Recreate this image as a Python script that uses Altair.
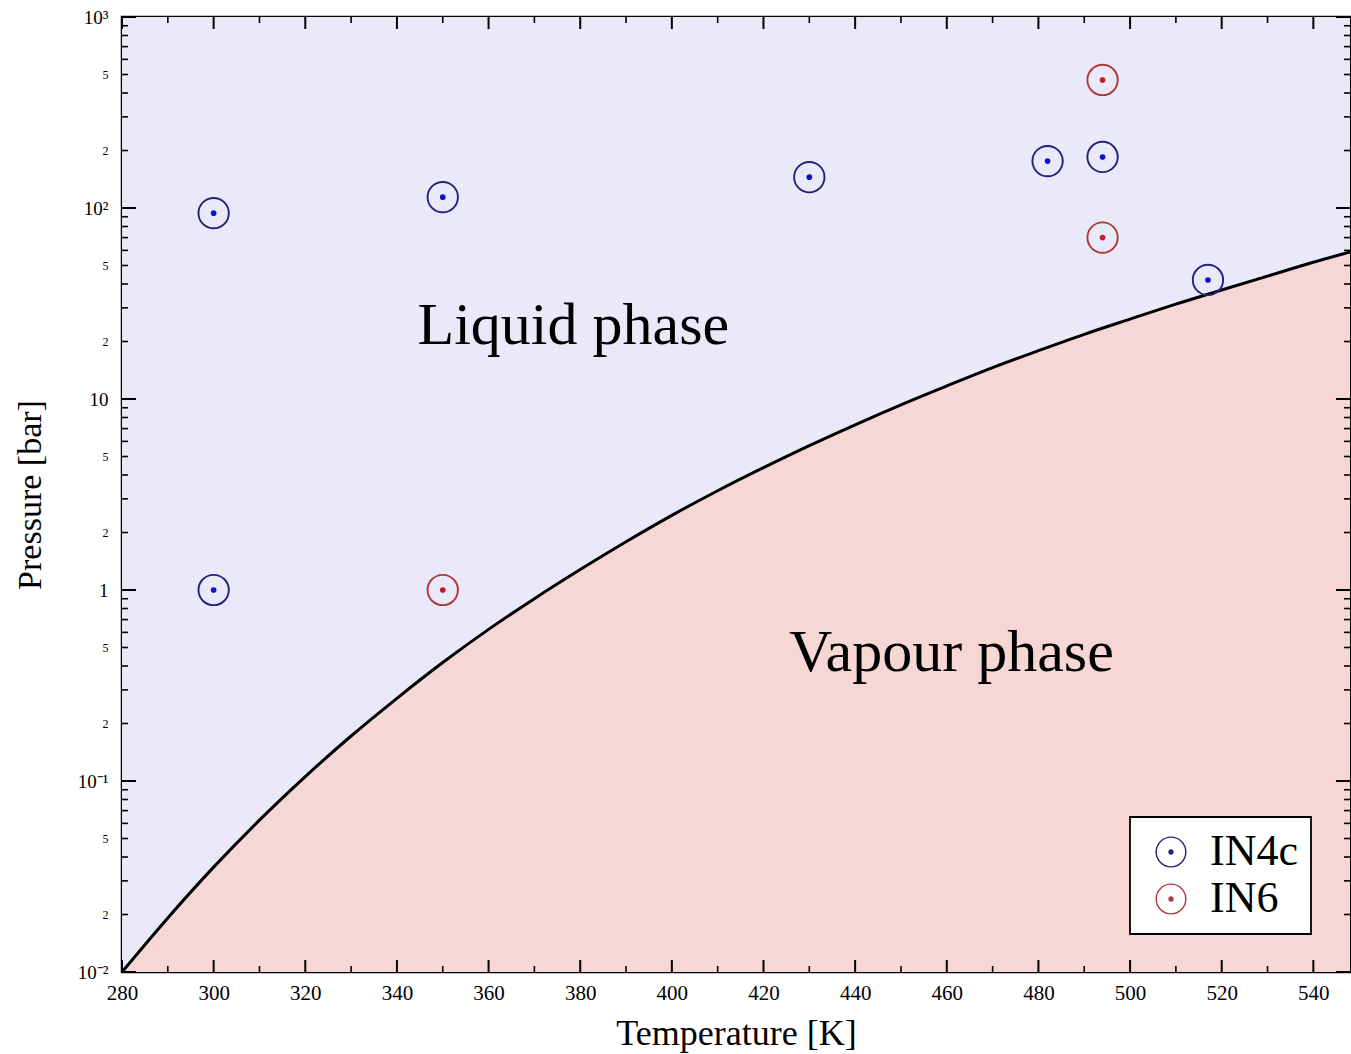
import math
import altair as alt
import pandas as pd

# Saturation curve of water (temperature in K, pressure in bar)
curve_T = [280, 290, 300, 310, 320, 330, 340, 350, 360, 370, 380, 390, 400, 410,
           420, 430, 440, 450, 460, 470, 480, 490, 500, 510, 520, 530, 540, 548]
curve_P = [0.0100, 0.0192, 0.0354, 0.0624, 0.1055, 0.172, 0.271, 0.417, 0.622, 0.901,
           1.28, 1.79, 2.46, 3.31, 4.37, 5.70, 7.33, 9.32, 11.7, 14.6, 17.9, 21.8,
           26.2, 31.4, 37.2, 44.0, 52.0, 58.8]

# Measurement points
in4c_T = [300, 300, 350, 430, 482, 494, 517]
in4c_P = [94, 1.0, 114, 145, 176, 185, 42]
in6_T = [350, 494, 494]
in6_P = [1.0, 468, 70]

series_names = ["IN4c", "IN6"]
ring_colors = ["#22227a", "#b03838"]
dot_colors = ["#1010c8", "#c01a2a"]

# Region labels
region_text = ["Liquid phase", "Vapour phase"]
region_T = [378.5, 461.0]
region_P = [24.0, 0.47]

# Axis ticks
x_major = list(range(280, 541, 20))
x_minor = list(range(290, 541, 20))
y_major = [0.01, 0.1, 1, 10, 100, 1000]
y_minor = [k * 10.0 ** e for e in range(-2, 3) for k in range(2, 10)]
y_label_vals = [0.01, 0.02, 0.05, 0.1, 0.2, 0.5, 1, 2, 5, 10, 20, 50, 100, 200, 500, 1000]
y_label_txt = ["10\u207b\u00b2", "2", "5", "10\u207b\u00b9", "2", "5", "1", "2", "5",
               "10", "2", "5", "10\u00b2", "2", "5", "10\u00b3"]

T_MIN, T_MAX = 280, 548
P_MIN, P_MAX = 0.01, 1000
W, H = 1228, 955

# label expression for the logarithmic pressure axis
expr = "'" + y_label_txt[-1] + "'"
for i in range(len(y_label_vals) - 2, -1, -1):
    thr = math.sqrt(y_label_vals[i] * y_label_vals[i + 1])
    expr = f"datum.value < {thr:.6g} ? '{y_label_txt[i]}' : ({expr})"

decade_test = "abs(log(datum.value)/LN10 - round(log(datum.value)/LN10)) < 0.001"

curve = pd.DataFrame({"T": curve_T, "P": curve_P, "top": P_MAX, "bottom": P_MIN})
points = pd.DataFrame({
    "T": in4c_T + in6_T,
    "P": in4c_P + in6_P,
    "series": ["IN4c"] * len(in4c_T) + ["IN6"] * len(in6_T),
})
labels = pd.DataFrame({"T": region_T, "P": region_P, "text": region_text})

xs = alt.Scale(domain=[T_MIN, T_MAX], nice=False, zero=False)
ys = alt.Scale(type="log", domain=[P_MIN, P_MAX], nice=False)

x_axis = alt.Axis(values=x_major, title="Temperature [K]", grid=False, ticks=False,
                  domain=False, labelFontSize=21, labelPadding=10, labelFlush=False,
                  titleFontSize=36, titleFontWeight="normal", titlePadding=13)
y_axis = alt.Axis(values=y_label_vals, labelExpr=expr, title="Pressure [bar]",
                  grid=False, ticks=False, domain=False, labelFlush=False,
                  labelFontSize={"condition": {"test": decade_test, "value": 19}, "value": 12},
                  labelPadding=14, titleFontSize=34, titleFontWeight="normal",
                  titlePadding=30)

base_curve = alt.Chart(curve)

liquid = base_curve.mark_area(color="#e9e9f9", clip=True, interpolate="monotone").encode(
    x=alt.X("T:Q", scale=xs, axis=x_axis),
    y=alt.Y("P:Q", scale=ys, axis=y_axis),
    y2="top:Q",
)
vapour = base_curve.mark_area(color="#f7d6d6", clip=True, interpolate="monotone").encode(
    x=alt.X("T:Q", scale=xs),
    y=alt.Y("P:Q", scale=ys),
    y2="bottom:Q",
)
line = base_curve.mark_line(color="black", strokeWidth=3, clip=True,
                            interpolate="monotone").encode(
    x=alt.X("T:Q", scale=xs),
    y=alt.Y("P:Q", scale=ys),
)

# inward-pointing ticks on all four sides
xmaj = pd.DataFrame({"T": x_major})
xmin = pd.DataFrame({"T": x_minor})
ymaj = pd.DataFrame({"P": y_major})
ymin = pd.DataFrame({"P": y_minor})


def xticks(df, length, width):
    bottom = alt.Chart(df).mark_rule(color="black", strokeWidth=width).encode(
        x=alt.X("T:Q", scale=xs), y=alt.value(H), y2=alt.value(H - length))
    top = alt.Chart(df).mark_rule(color="black", strokeWidth=width).encode(
        x=alt.X("T:Q", scale=xs), y=alt.value(0), y2=alt.value(length))
    return [bottom, top]


def yticks(df, length, width):
    left = alt.Chart(df).mark_rule(color="black", strokeWidth=width).encode(
        y=alt.Y("P:Q", scale=ys), x=alt.value(0), x2=alt.value(length))
    right = alt.Chart(df).mark_rule(color="black", strokeWidth=width).encode(
        y=alt.Y("P:Q", scale=ys), x=alt.value(W), x2=alt.value(W - length))
    return [left, right]


tick_layers = (xticks(xmaj, 12, 2) + xticks(xmin, 6, 1.6)
               + yticks(ymaj, 14, 2) + yticks(ymin, 6, 1.6))

# ring with a centre dot, drawn in unit coordinates for the legend symbol
legend_symbol = ("M -1,0 A 1,1 0 1,1 1,0 A 1,1 0 1,1 -1,0 "
                 "M -0.13,0 A 0.13,0.13 0 1,1 0.13,0 A 0.13,0.13 0 1,1 -0.13,0 "
                 "M -0.08,0 A 0.08,0.08 0 1,1 0.08,0 A 0.08,0.08 0 1,1 -0.08,0 "
                 "M -0.03,0 A 0.03,0.03 0 1,1 0.03,0 A 0.03,0.03 0 1,1 -0.03,0")

rings = alt.Chart(points).mark_point(shape="circle", filled=False, size=920,
                                     strokeWidth=1.9, opacity=1).encode(
    x=alt.X("T:Q", scale=xs),
    y=alt.Y("P:Q", scale=ys),
    stroke=alt.Stroke("series:N",
                      scale=alt.Scale(domain=series_names, range=ring_colors),
                      legend=alt.Legend(title=None, orient="none", legendX=1008,
                                        legendY=800, symbolType=legend_symbol,
                                        symbolSize=880, symbolStrokeWidth=1.4,
                                        symbolFillColor="transparent",
                                        symbolOffset=6,
                                        labelFontSize=44, labelOffset=17,
                                        rowPadding=3, padding=13,
                                        fillColor="white", strokeColor="black")),
)
dots = alt.Chart(points).mark_point(shape="circle", filled=True, size=32, opacity=1).encode(
    x=alt.X("T:Q", scale=xs),
    y=alt.Y("P:Q", scale=ys),
    fill=alt.Fill("series:N", scale=alt.Scale(domain=series_names, range=dot_colors),
                  legend=None),
)

texts = alt.Chart(labels).mark_text(fontSize=60, color="black", align="center",
                                    baseline="middle").encode(
    x=alt.X("T:Q", scale=xs),
    y=alt.Y("P:Q", scale=ys),
    text="text:N",
)

chart = alt.layer(liquid, vapour, line, *tick_layers, rings, dots, texts).resolve_scale(
    stroke="independent", fill="independent"
).properties(
    width=W, height=H,
    autosize=alt.AutoSizeParams(type="none"),
    padding={"left": 122, "top": 17, "right": 1, "bottom": 82},
    background="white",
).configure(
    font="Liberation Serif",
).configure_view(
    stroke="black", strokeWidth=2.5,
).configure_axis(
    labelColor="black", titleColor="black",
).configure_legend(
    strokeWidth=1.8,
)

chart.save("out.html", embed_options={"renderer": "svg", "actions": False})
